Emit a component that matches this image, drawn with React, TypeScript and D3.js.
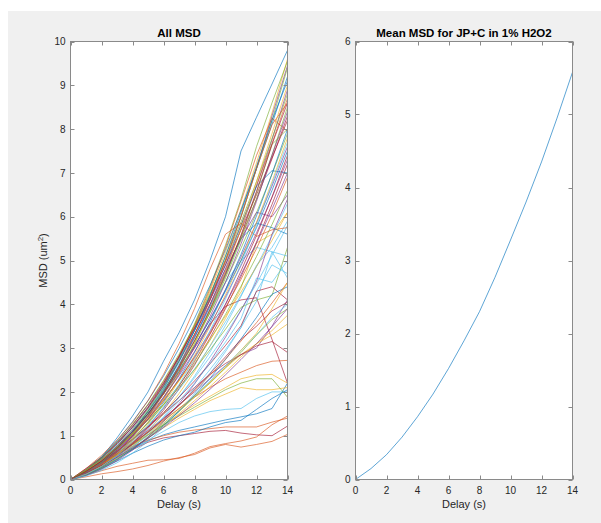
import React from "react";
import * as d3 from "d3";

// ---------- data ----------
const delays = [0, 1, 2, 3, 4, 5, 6, 7, 8, 9, 10, 11, 12, 13, 14];
const xTicks = [0, 2, 4, 6, 8, 10, 12, 14];
const yTicksAll = [0, 1, 2, 3, 4, 5, 6, 7, 8, 9, 10];
const yTicksMean = [0, 1, 2, 3, 4, 5, 6];

const meanMsd = [0, 0.15, 0.34, 0.58, 0.86, 1.17, 1.52, 1.9, 2.3, 2.77, 3.28, 3.8, 4.35, 4.95, 5.58];

// one array per trajectory (MSD in um^2 at each delay)
const allMsd: number[][] = [
  [0, 0.2, 0.5, 0.95, 1.45, 2.0, 2.7, 3.35, 4.1, 5.0, 6.0, 7.5, 8.27, 9.03, 9.8],
  [0, 0.06, 0.13, 0.18, 0.24, 0.32, 0.42, 0.5, 0.57, 0.72, 0.8, 0.74, 0.8, 0.87, 1.03],
  [0, 0.14, 0.37, 0.68, 1.08, 1.56, 2.11, 2.76, 3.48, 4.3, 5.19, 6.17, 7.23, 8.37, 9.6],
  [0, 0.13, 0.35, 0.63, 1.0, 1.44, 1.96, 2.56, 3.23, 3.99, 4.81, 5.72, 6.7, 7.76, 8.9],
  [0, 0.15, 0.38, 0.7, 1.1, 1.58, 2.15, 2.8, 3.55, 4.4, 5.35, 6.4, 7.6, 8.6, 9.55],
  [0, 0.15, 0.33, 0.56, 0.83, 1.14, 1.49, 1.89, 2.32, 2.8, 3.31, 3.87, 4.47, 5.12, 5.8],
  [0, 0.12, 0.3, 0.5, 0.68, 0.85, 0.95, 1.0, 1.05, 1.1, 1.12, 1.06, 1.02, 1.0, 1.22],

  [0, 0.13, 0.3, 0.5, 0.7, 0.88, 1.02, 1.12, 1.2, 1.28, 1.36, 1.43, 1.5, 1.62, 2.2],
  [0, 0.22, 0.5, 0.84, 1.24, 1.71, 2.24, 2.83, 3.48, 4.19, 4.97, 5.81, 6.71, 7.67, 8.7],
  [0, 0.15, 0.35, 0.57, 0.8, 1.02, 1.25, 1.48, 1.7, 1.9, 2.1, 2.3, 2.38, 2.4, 2.2],
  [0, 0.13, 0.34, 0.63, 1.0, 1.45, 2.0, 2.6, 3.3, 4.1, 5.0, 6.0, 7.1, 8.3, 9.45],
  [0, 0.2, 0.45, 0.76, 1.13, 1.55, 2.03, 2.57, 3.16, 3.81, 4.51, 5.28, 6.09, 6.97, 7.9],
  [0, 0.12, 0.28, 0.48, 0.68, 0.9, 1.1, 1.3, 1.45, 1.55, 1.6, 1.62, 1.85, 2.0, 2.0],
  [0, 0.21, 0.47, 0.8, 1.19, 1.63, 2.13, 2.7, 3.32, 4.0, 4.74, 5.54, 6.4, 7.32, 8.3],

  [0, 0.23, 0.52, 0.88, 1.32, 1.8, 2.36, 2.99, 3.68, 4.43, 5.25, 6.15, 7.09, 8.11, 9.2],
  [0, 0.1, 0.2, 0.3, 0.37, 0.44, 0.45, 0.48, 0.6, 0.75, 0.82, 0.88, 0.97, 1.25, 1.45],
  [0, 0.1, 0.27, 0.48, 0.76, 1.1, 1.5, 1.96, 2.47, 3.05, 3.68, 4.37, 5.4, 5.6, 6.1],
  [0, 0.15, 0.35, 0.6, 0.85, 1.12, 1.4, 1.7, 2.0, 2.3, 2.6, 2.85, 3.0, 3.5, 4.1],
  [0, 0.15, 0.35, 0.66, 1.05, 1.55, 2.05, 2.7, 3.4, 4.2, 5.1, 6.0, 7.1, 8.2, 9.4],
  [0, 0.13, 0.3, 0.5, 0.74, 1.02, 1.34, 1.69, 2.08, 2.51, 2.97, 3.47, 4.3, 4.9, 4.7],
  [0, 0.2, 0.45, 0.75, 1.1, 1.5, 1.95, 2.45, 3.0, 3.55, 3.95, 4.1, 4.15, 3.2, 2.2],

  [0, 0.2, 0.48, 0.82, 1.2, 1.65, 2.15, 2.75, 3.4, 4.1, 4.9, 5.8, 6.7, 7.05, 7.0],
  [0, 0.18, 0.42, 0.75, 1.15, 1.62, 2.17, 2.8, 3.52, 4.35, 5.3, 6.35, 7.4, 8.25, 7.95],
  [0, 0.13, 0.3, 0.5, 0.72, 0.95, 1.18, 1.4, 1.6, 1.8, 1.95, 2.1, 2.05, 2.05, 2.1],
  [0, 0.19, 0.43, 0.73, 1.09, 1.49, 1.95, 2.47, 3.04, 3.66, 4.34, 5.08, 5.86, 6.7, 7.6],
  [0, 0.15, 0.35, 0.58, 0.8, 1.02, 1.25, 1.45, 1.65, 1.85, 2.05, 2.2, 2.3, 2.3, 1.88],
  [0, 0.2, 0.45, 0.78, 1.15, 1.6, 2.1, 2.65, 3.25, 3.9, 4.5, 5.0, 5.3, 5.2, 4.6],
  [0, 0.11, 0.28, 0.51, 0.81, 1.17, 1.58, 2.07, 2.61, 3.23, 3.9, 4.63, 5.42, 6.28, 7.2],

  [0, 0.15, 0.38, 0.68, 1.05, 1.5, 2.02, 2.6, 3.25, 3.95, 4.7, 5.5, 5.85, 5.75, 5.6],
  [0, 0.14, 0.32, 0.55, 0.75, 0.9, 1.0, 1.08, 1.13, 1.16, 1.2, 1.2, 1.2, 1.31, 1.4],
  [0, 0.14, 0.33, 0.56, 0.8, 1.06, 1.33, 1.62, 1.92, 2.22, 2.55, 2.85, 3.1, 3.4, 3.75],
  [0, 0.2, 0.5, 0.85, 1.25, 1.7, 2.2, 2.8, 3.45, 4.1, 4.8, 5.5, 6.1, 6.0, 6.5],
  [0, 0.13, 0.33, 0.6, 0.95, 1.38, 1.87, 2.45, 3.09, 3.81, 4.6, 5.47, 6.4, 7.41, 8.5],
  [0, 0.1, 0.25, 0.46, 0.73, 1.05, 1.43, 1.87, 2.36, 2.91, 3.52, 4.18, 4.89, 5.3, 5.9],
  [0, 0.16, 0.38, 0.62, 0.9, 1.2, 1.5, 1.8, 2.1, 2.4, 2.65, 2.85, 3.05, 3.15, 2.9],

  [0, 0.12, 0.31, 0.57, 0.9, 1.3, 1.76, 2.3, 2.9, 3.58, 4.33, 5.14, 6.02, 6.98, 8.0],
  [0, 0.15, 0.35, 0.58, 0.82, 1.08, 1.35, 1.62, 1.88, 2.1, 2.3, 2.45, 2.6, 2.7, 2.72],
  [0, 0.12, 0.3, 0.55, 0.87, 1.26, 1.72, 2.25, 2.83, 3.49, 4.22, 5.0, 5.87, 6.8, 7.8],
  [0, 0.18, 0.42, 0.7, 1.04, 1.43, 1.88, 2.37, 2.92, 3.52, 4.17, 4.88, 5.63, 6.44, 7.3],
  [0, 0.17, 0.38, 0.63, 0.94, 1.29, 1.7, 2.15, 2.64, 3.18, 3.77, 4.41, 5.09, 5.82, 6.6],
  [0, 0.12, 0.28, 0.5, 0.75, 1.0, 1.28, 1.58, 1.9, 2.25, 2.6, 2.95, 3.3, 3.7, 4.0],
  [0, 0.11, 0.29, 0.53, 0.83, 1.2, 1.63, 2.13, 2.69, 3.32, 4.0, 4.76, 5.57, 6.45, 7.4],

  [0, 0.1, 0.25, 0.42, 0.6, 0.76, 0.9, 1.0, 1.08, 1.2, 1.3, 1.35, 1.6, 1.85, 2.05],
  [0, 0.25, 0.55, 0.9, 1.3, 1.8, 2.4, 3.1, 3.9, 4.8, 5.6, 5.85, 5.55, 5.7, 5.75],
  [0, 0.12, 0.28, 0.48, 0.7, 0.95, 1.22, 1.5, 1.8, 2.12, 2.45, 2.8, 3.1, 3.3, 3.55],
  [0, 0.18, 0.4, 0.67, 1.0, 1.37, 1.8, 2.28, 2.8, 3.37, 4.0, 4.68, 5.4, 6.17, 7.0],
  [0, 0.1, 0.25, 0.45, 0.7, 0.97, 1.25, 1.55, 1.88, 2.2, 2.55, 2.9, 3.3, 3.65, 3.9],
  [0, 0.16, 0.36, 0.6, 0.9, 1.23, 1.62, 2.05, 2.52, 3.04, 3.6, 4.21, 4.86, 5.56, 6.3],
  [0, 0.25, 0.5, 0.82, 1.2, 1.65, 2.2, 2.8, 3.45, 4.15, 4.9, 5.7, 6.5, 7.35, 8.2],

  [0, 0.2, 0.45, 0.75, 1.1, 1.5, 1.98, 2.5, 3.05, 3.65, 4.3, 5.0, 5.75, 6.6, 7.5],
  [0, 0.2, 0.43, 0.7, 1.02, 1.38, 1.8, 2.27, 2.78, 3.33, 3.93, 4.57, 5.27, 6.05, 6.9],
  [0, 0.2, 0.45, 0.74, 1.05, 1.42, 1.82, 2.25, 2.72, 3.2, 3.73, 4.28, 4.86, 5.46, 6.1],
  [0, 0.09, 0.23, 0.43, 0.67, 0.97, 1.32, 1.73, 2.18, 2.69, 3.25, 3.86, 4.52, 5.6, 6.4],
  [0, 0.21, 0.46, 0.73, 1.03, 1.36, 1.71, 2.1, 2.51, 2.96, 3.43, 3.93, 4.1, 4.2, 5.3],
  [0, 0.08, 0.21, 0.38, 0.6, 0.87, 1.19, 1.56, 1.96, 2.42, 2.92, 3.47, 4.07, 5.2, 5.1],
  [0, 0.19, 0.41, 0.65, 0.92, 1.21, 1.53, 1.88, 2.25, 2.64, 3.06, 3.51, 4.3, 4.4, 4.1],

  [0, 0.12, 0.27, 0.46, 0.69, 0.94, 1.23, 1.56, 1.92, 2.31, 2.74, 3.21, 3.7, 4.23, 4.4],
  [0, 0.17, 0.37, 0.59, 0.83, 1.09, 1.38, 1.69, 2.02, 2.38, 2.75, 3.16, 3.58, 4.03, 4.5],
  [0, 0.16, 0.34, 0.55, 0.77, 1.02, 1.29, 1.58, 1.89, 2.22, 2.57, 2.95, 3.34, 3.9, 4.5],
  [0, 0.15, 0.32, 0.51, 0.72, 0.94, 1.19, 1.46, 1.75, 2.06, 2.39, 2.74, 3.1, 3.49, 3.9],
  [0, 0.22, 0.5, 0.85, 1.26, 1.72, 2.26, 2.86, 3.52, 4.24, 5.02, 5.88, 6.8, 7.78, 8.8],
  [0, 0.14, 0.31, 0.53, 0.79, 1.08, 1.41, 1.79, 2.2, 2.65, 3.14, 3.67, 4.6, 4.5, 5.0],
  [0, 0.14, 0.32, 0.55, 0.8, 1.08, 1.38, 1.7, 2.05, 2.42, 2.8, 3.2, 3.5, 3.85, 4.05],

  [0, 0.16, 0.4, 0.72, 1.1, 1.55, 2.08, 2.7, 3.4, 4.2, 5.1, 6.1, 7.15, 8.2, 9.1],
  [0, 0.14, 0.34, 0.62, 0.98, 1.42, 1.95, 2.58, 3.3, 4.1, 5.0, 6.0, 7.1, 8.1, 8.6],
  [0, 0.12, 0.3, 0.56, 0.9, 1.32, 1.82, 2.42, 3.1, 3.88, 4.75, 5.72, 6.8, 7.9, 9.0],
  [0, 0.15, 0.36, 0.64, 0.98, 1.38, 1.85, 2.4, 3.02, 3.72, 4.5, 5.38, 6.35, 7.4, 8.4],
  [0, 0.17, 0.4, 0.7, 1.05, 1.47, 1.96, 2.52, 3.15, 3.85, 4.65, 5.55, 6.55, 7.65, 8.0],
  [0, 0.12, 0.3, 0.54, 0.85, 1.22, 1.66, 2.17, 2.75, 3.4, 4.12, 4.92, 5.8, 6.75, 7.7],
  [0, 0.18, 0.42, 0.72, 1.08, 1.5, 1.98, 2.54, 3.17, 3.88, 4.68, 5.58, 6.58, 7.65, 8.6],
];

const matlabColors = ["#0072BD", "#D95319", "#EDB120", "#7E2F8E", "#77AC30", "#4DBEEE", "#A2142F"];

// ---------- layout ----------
const W = 601;
const H = 523;
const TOP = 41.5;
const BOTTOM = 479.5;
const FONT = "'Liberation Sans', Arial, Helvetica, sans-serif";
const AXIS_COLOR = "#8a8a8a";
const TEXT_COLOR = "#262626";
const TICK_LEN = 4;

type PanelProps = {
  id: string;
  left: number;
  right: number;
  yMax: number;
  yTicks: number[];
  title: string;
  series: number[][];
  colorFor: (i: number) => string;
  yLabel?: boolean;
};

function Panel({ id, left, right, yMax, yTicks, title, series, colorFor, yLabel }: PanelProps) {
  const x = d3.scaleLinear().domain([0, 14]).range([left, right]);
  const y = d3.scaleLinear().domain([0, yMax]).range([BOTTOM, TOP]);
  const line = d3
    .line<number>()
    .x((_, i) => x(delays[i]))
    .y((d) => y(d));
  const cx = (left + right) / 2;
  return (
    <g>
      <defs>
        <clipPath id={id}>
          <rect x={left} y={TOP} width={right - left} height={BOTTOM - TOP} />
        </clipPath>
      </defs>
      <rect x={left} y={TOP} width={right - left} height={BOTTOM - TOP} fill="#ffffff" />
      <g clipPath={`url(#${id})`}>
        {series.map((s, i) => (
          <path
            key={i}
            d={line(s) || ""}
            fill="none"
            stroke={colorFor(i)}
            strokeOpacity={0.85}
            strokeWidth={0.75}
            strokeLinejoin="round"
          />
        ))}
      </g>
      {/* box */}
      <rect x={left} y={TOP} width={right - left} height={BOTTOM - TOP} fill="none" stroke={AXIS_COLOR} strokeWidth={1} />
      {/* x ticks */}
      {xTicks.map((t) => (
        <g key={"x" + t}>
          <line x1={Math.round(x(t)) + 0.5} x2={Math.round(x(t)) + 0.5} y1={BOTTOM} y2={BOTTOM - TICK_LEN} stroke={AXIS_COLOR} />
          <line x1={Math.round(x(t)) + 0.5} x2={Math.round(x(t)) + 0.5} y1={TOP} y2={TOP + TICK_LEN} stroke={AXIS_COLOR} />
          <text x={x(t)} y={494} textAnchor="middle" fontSize={10} fontFamily={FONT} fill={TEXT_COLOR}>
            {t}
          </text>
        </g>
      ))}
      {/* y ticks */}
      {yTicks.map((t) => (
        <g key={"y" + t}>
          <line x1={left} x2={left + TICK_LEN} y1={Math.round(y(t)) + 0.5} y2={Math.round(y(t)) + 0.5} stroke={AXIS_COLOR} />
          <line x1={right} x2={right - TICK_LEN} y1={Math.round(y(t)) + 0.5} y2={Math.round(y(t)) + 0.5} stroke={AXIS_COLOR} />
          <text x={left - 5} y={y(t) + 3.6} textAnchor="end" fontSize={10} fontFamily={FONT} fill={TEXT_COLOR}>
            {t}
          </text>
        </g>
      ))}
      <text x={cx} y={507.5} textAnchor="middle" fontSize={11} fontFamily={FONT} fill={TEXT_COLOR}>
        Delay (s)
      </text>
      <text x={cx} y={37} textAnchor="middle" fontSize={11.5} fontWeight="bold" fontFamily={FONT} fill="#000000">
        {title}
      </text>
      {yLabel && (
        <text
          transform={`translate(47, ${(TOP + BOTTOM) / 2}) rotate(-90)`}
          textAnchor="middle"
          fontSize={11}
          fontFamily={FONT}
          fill={TEXT_COLOR}
        >
          MSD (um
          <tspan dy={-4} fontSize={8}>
            2
          </tspan>
          <tspan dy={4}>)</tspan>
        </text>
      )}
    </g>
  );
}

export default function App() {
  return (
    <svg
      width={W}
      height={H}
      viewBox={`0 0 ${W} ${H}`}
      style={{ position: "absolute", left: 0, top: 0, display: "block" }}
    >
      <rect x={0} y={0} width={W} height={H} fill="#ffffff" />
      <rect x={8} y={11} width={W - 8} height={H - 11} fill="#f0f0f0" />
      <Panel
        id="clipAll"
        left={70.5}
        right={287.5}
        yMax={10}
        yTicks={yTicksAll}
        title="All MSD"
        series={allMsd}
        colorFor={(i) => matlabColors[i % matlabColors.length]}
        yLabel
      />
      <Panel
        id="clipMean"
        left={355.5}
        right={572.5}
        yMax={6}
        yTicks={yTicksMean}
        title="Mean MSD for JP+C in 1% H2O2"
        series={[meanMsd]}
        colorFor={() => matlabColors[0]}
      />
    </svg>
  );
}
